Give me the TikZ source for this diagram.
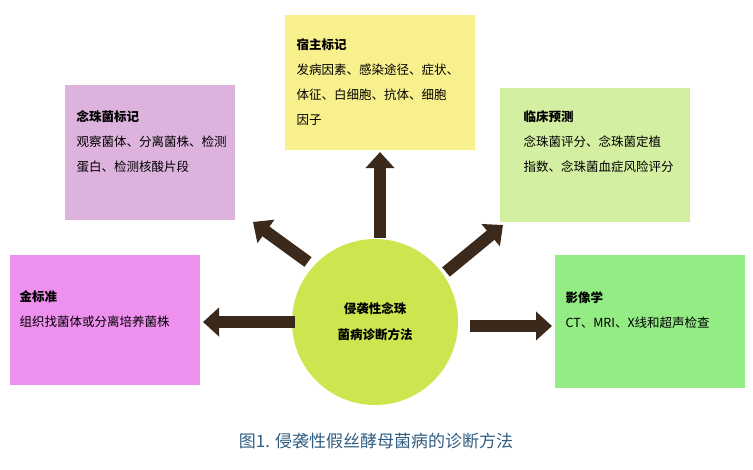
\documentclass[tikz,border=0pt]{standalone}
\usepackage{fontspec}
\setmainfont{Noto Sans CJK SC}
\usetikzlibrary{arrows.meta}
\definecolor{cyel}{HTML}{F8F08C}
\definecolor{cpur}{HTML}{DDB3DE}
\definecolor{clgr}{HTML}{D3EFA2}
\definecolor{cpnk}{HTML}{EE90EE}
\definecolor{cgrn}{HTML}{93EC84}
\definecolor{ccir}{HTML}{CBE64F}
\definecolor{carr}{HTML}{3B2A1C}
\definecolor{ccap}{HTML}{2F5D82}
\tikzset{
  blk/.style={line width=12pt, carr, -{Triangle[width=28pt,length=16pt]}},
  ttl/.style={font=\bfseries\fontsize{12.5}{14}\selectfont, anchor=north west},
  txt/.style={font=\fontsize{12.5}{25}\selectfont, anchor=north west, align=left}
}
\begin{document}
\begin{tikzpicture}[x=1pt,y=-1pt]
\useasboundingbox (0,0) rectangle (753,469);
% boxes
\fill[cyel] (285,15) rectangle (475,150);
\fill[cpur] (65,85) rectangle (235,220);
\fill[clgr] (500,88) rectangle (690,222);
\fill[cpnk] (10,255) rectangle (200,385);
\fill[cgrn] (555,255) rectangle (745,388);
% circle
\node[circle, fill=ccir, minimum size=166pt, inner sep=0pt] (ctr) at (375,322) {};
\node[font=\bfseries\fontsize{12.5}{26}\selectfont, align=center] (ctrt) at (ctr) {侵袭性念珠\\菌病诊断方法};
% texts
\node[ttl] (t1) at (293,35) {宿主标记};
\node[txt] (b1) at (293,60) {发病因素、感染途径、症状、\\体征、白细胞、抗体、细胞\\因子};
\node[ttl] (t2) at (73,107) {念珠菌标记};
\node[txt] (b2) at (73,132) {观察菌体、分离菌株、检测\\蛋白、检测核酸片段};
\node[ttl] (t3) at (520,107) {临床预测};
\node[txt] (b3) at (520,132) {念珠菌评分、念珠菌定植\\指数、念珠菌血症风险评分};
\node[ttl] (t4) at (16,287) {金标准};
\node[txt] (b4) at (16,312) {组织找菌体或分离培养菌株};
\node[ttl] (t5) at (562,288) {影像学};
\node[txt] (b5) at (562,313) {CT、MRI、X线和超声检查};
% arrows
\coordinate (a1) at (380,152);
\coordinate (a2) at (253,222);
\coordinate (a3) at (503,225);
\coordinate (a4) at (203,322);
\coordinate (a5) at (552,326);
\draw[blk] (380,238) -- (a1);
\draw[blk] (308,262) -- (a2);
\draw[blk] (446,272) -- (a3);
\draw[blk] (295,322) -- (a4);
\draw[blk] (470,326) -- (a5);
\node[font=\fontsize{17}{20}\selectfont, text=ccap] (cap) at (376,441) {图1. 侵袭性假丝酵母菌病的诊断方法};
\end{tikzpicture}
\end{document}
